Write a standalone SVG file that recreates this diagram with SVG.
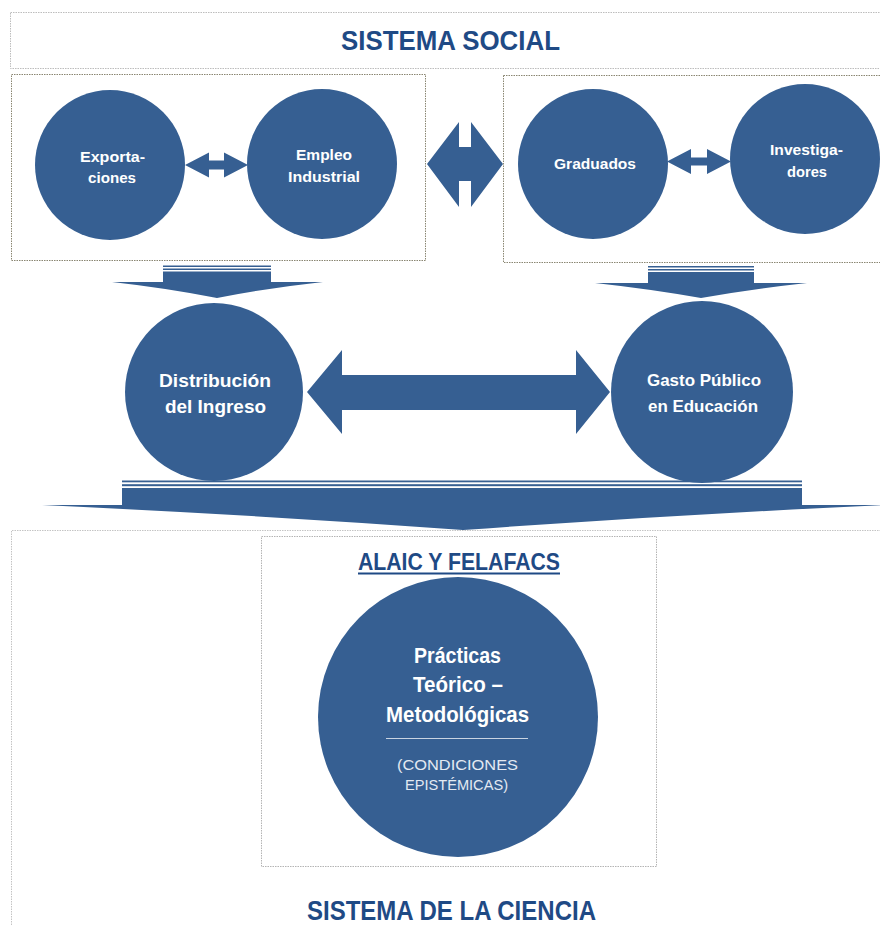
<svg xmlns="http://www.w3.org/2000/svg" width="880" height="925" viewBox="0 0 880 925">
<style>
.title{font-family:"Liberation Sans",Arial,sans-serif;font-weight:bold;fill:#1F4A85;text-anchor:middle}
.lbl{font-family:"Liberation Sans",Arial,sans-serif;font-weight:bold;fill:#ffffff;text-anchor:middle}
.thin{font-family:"Liberation Sans",Arial,sans-serif;fill:#e4eaf2;text-anchor:middle}
.node{fill:#365F92}
.arrow{fill:#365F92}
.boxA{fill:none;stroke:#bdbdbd;stroke-width:1;stroke-dasharray:1.5 1}
.boxB{fill:none;stroke:#8a8672;stroke-width:1;stroke-dasharray:1.5 1}
</style>
<rect width="880" height="925" fill="#ffffff"/>

<g id="sistema-social">
  <rect class="boxA" x="10.5" y="12.5" width="880" height="56"/>
  <text class="title" x="450.5" y="50" font-size="28" textLength="219" lengthAdjust="spacingAndGlyphs">SISTEMA SOCIAL</text>
</g>

<g id="grupo-izq"><rect class="boxB" x="11.5" y="74.5" width="414" height="186"/></g>
<g id="grupo-der"><rect class="boxB" x="503.5" y="75.5" width="400" height="187"/></g>

<g id="sistema-ciencia">
  <path d="M11.5 925 V530.5 H890" fill="none" stroke="#c4c4c4" stroke-width="1" stroke-dasharray="1.5 1"/>
  <text class="title" x="451.5" y="920" font-size="27.5" textLength="289" lengthAdjust="spacingAndGlyphs">SISTEMA DE LA CIENCIA</text>
</g>

<g id="alaic">
  <rect x="261.5" y="536.5" width="395" height="330" fill="none" stroke="#b4b4b4" stroke-width="1" stroke-dasharray="1.5 1"/>
  <text class="title" x="459" y="570" font-size="23" textLength="202" lengthAdjust="spacingAndGlyphs">ALAIC Y FELAFACS</text>
  <rect x="358" y="572.5" width="202" height="2" fill="#1F4A85"/>
</g>

<g id="connectors">
  <polygon class="arrow" points="185,165 209,152.5 209,160.5 224,160.5 224,152.5 248,165 224,177.5 224,169.5 209,169.5 209,177.5"/>
  <polygon class="arrow" points="667,161.5 691,149 691,157.5 707,157.5 707,149 731,161.5 707,174 707,165.5 691,165.5 691,174"/>
  <polygon class="arrow" points="427,164 459,122 459,147 471,147 471,122 503,164 471,207 471,181 459,181 459,207"/>
  <polygon class="arrow" points="307,392 342,350 342,375 576,375 576,350 610,392 576,434 576,410 342,410 342,434"/>
  <g id="flecha-abajo-izq">
    <rect class="arrow" x="163" y="265.5" width="108" height="1.5"/>
    <rect class="arrow" x="163" y="268.5" width="108" height="1.5"/>
    <path class="arrow" d="M163 271.5 H271 V282 H323 Q268 288 217 298 Q166 288 112 282 H163 Z"/>
  </g>
  <g id="flecha-abajo-der">
    <rect class="arrow" x="648" y="266" width="106" height="1.5"/>
    <rect class="arrow" x="648" y="269" width="106" height="1.5"/>
    <path class="arrow" d="M648 272 H754 V283 H807 Q752 289 701 298 Q650 289 595 283 H648 Z"/>
  </g>
  <g id="flecha-abajo-grande">
    <rect class="arrow" x="122" y="480.5" width="680" height="1.8"/>
    <rect class="arrow" x="122" y="484.2" width="680" height="2"/>
    <path class="arrow" d="M122 488 H802 V505 H884 Q670 515 463 530 Q256 515 42 505 H122 Z"/>
  </g>
</g>

<g id="exportaciones">
  <circle class="node" cx="110" cy="165" r="75"/>
  <text class="lbl" x="112.5" y="162" font-size="15.5" textLength="65" lengthAdjust="spacingAndGlyphs">Exporta-</text>
  <text class="lbl" x="112" y="183" font-size="15.5" textLength="48" lengthAdjust="spacingAndGlyphs">ciones</text>
</g>
<g id="empleo-industrial">
  <circle class="node" cx="322" cy="164" r="75"/>
  <text class="lbl" x="324" y="160" font-size="15.5" textLength="56" lengthAdjust="spacingAndGlyphs">Empleo</text>
  <text class="lbl" x="324" y="182" font-size="15.5" textLength="72" lengthAdjust="spacingAndGlyphs">Industrial</text>
</g>
<g id="graduados">
  <circle class="node" cx="593" cy="164" r="75"/>
  <text class="lbl" x="595" y="169" font-size="15.5" textLength="82" lengthAdjust="spacingAndGlyphs">Graduados</text>
</g>
<g id="investigadores">
  <circle class="node" cx="805" cy="159" r="75"/>
  <text class="lbl" x="806.5" y="155" font-size="15.5" textLength="73" lengthAdjust="spacingAndGlyphs">Investiga-</text>
  <text class="lbl" x="807" y="177" font-size="15.5" textLength="40" lengthAdjust="spacingAndGlyphs">dores</text>
</g>
<g id="distribucion">
  <circle class="node" cx="214" cy="392" r="89"/>
  <text class="lbl" x="215" y="387" font-size="18.5" textLength="112" lengthAdjust="spacingAndGlyphs">Distribución</text>
  <text class="lbl" x="215.5" y="413" font-size="18.5" textLength="101" lengthAdjust="spacingAndGlyphs">del Ingreso</text>
</g>
<g id="gasto-publico">
  <circle class="node" cx="702" cy="392" r="91"/>
  <text class="lbl" x="704" y="386" font-size="17" textLength="114" lengthAdjust="spacingAndGlyphs">Gasto Público</text>
  <text class="lbl" x="703" y="412" font-size="17" textLength="110" lengthAdjust="spacingAndGlyphs">en Educación</text>
</g>
<g id="practicas">
  <circle class="node" cx="458" cy="717" r="140"/>
  <text class="lbl" x="457.5" y="663" font-size="21.5" textLength="87" lengthAdjust="spacingAndGlyphs">Prácticas</text>
  <text class="lbl" x="458" y="692" font-size="21.5" textLength="90" lengthAdjust="spacingAndGlyphs">Teórico –</text>
  <text class="lbl" x="457.5" y="722" font-size="21.5" textLength="143" lengthAdjust="spacingAndGlyphs">Metodológicas</text>
  <line x1="386" y1="738.5" x2="528" y2="738.5" stroke="#c9d4e2" stroke-width="1"/>
  <text class="thin" x="457.5" y="770" font-size="15" textLength="121" lengthAdjust="spacingAndGlyphs">(CONDICIONES</text>
  <text class="thin" x="456.5" y="790" font-size="15" textLength="103" lengthAdjust="spacingAndGlyphs">EPISTÉMICAS)</text>
</g>
</svg>
